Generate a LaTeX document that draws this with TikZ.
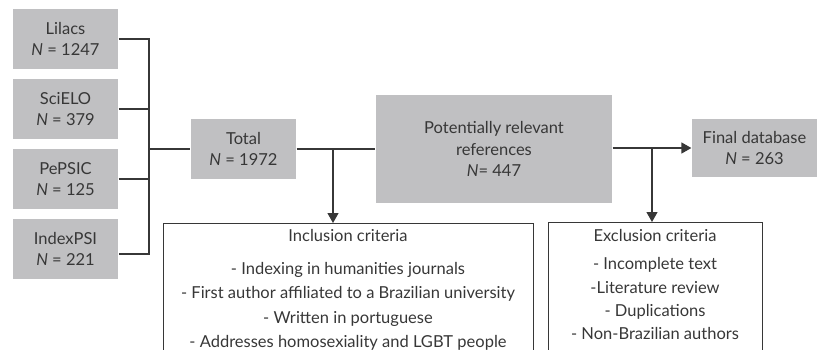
\documentclass[tikz,border=0pt]{standalone}
\usepackage{fontspec}
\setmainfont{Lato}
\usetikzlibrary{arrows.meta,positioning}
\definecolor{boxgray}{RGB}{192,192,194}
\definecolor{inkgray}{RGB}{55,55,55}

\begin{document}
\begin{tikzpicture}[x=1pt, y=-1pt, color=inkgray, line width=1.2pt,
  >={Triangle[length=10pt,width=11pt]},
  dbbox/.style = {fill=boxgray, minimum width=105pt, minimum height=60pt,
    inner sep=0pt, align=center, font=\fontsize{16.5}{21.5}\selectfont},
  critbox/.style = {draw, line width=1pt, anchor=north, minimum height=150pt, inner sep=0pt},
  crittext/.style = {anchor=north, align=center, inner sep=0pt}]

\useasboundingbox (0,0) rectangle (819,350);

% sources
\node[dbbox] (lil) at (65.5,39)  {Lilacs\\\textit{N} = 1247};
\node[dbbox] (sci) at (65.5,109) {SciELO\\\textit{N} = 379};
\node[dbbox] (pep) at (65.5,179) {PePSIC\\\textit{N} = 125};
\node[dbbox] (idx) at (65.5,249) {IndexPSI\\\textit{N} = 221};

\node[dbbox] (tot) at (243.5,149) {Total\\\textit{N} = 1972};
\node[dbbox, minimum width=236pt, minimum height=108pt] (pot) at (494,149)
  {Potentially relevant\\references\\\textit{N}= 447};
\node[dbbox, minimum width=125pt, minimum height=58pt] (fin) at (754.5,148)
  {Final database\\\textit{N} = 263};

% criteria
\node[critbox, minimum width=370pt] (inc) at (348,223) {};
\node[crittext, font=\fontsize{16.5}{24.5}\selectfont] (inctxt) at ([yshift=-6pt]inc.north)
  {Inclusion criteria\\[8pt]
   - Indexing in humanities journals\\
   - First author affiliated to a Brazilian university\\
   - Written in portuguese\\
   - Addresses homosexiality and LGBT people};
\node[critbox, minimum width=214pt] (exc) at (655,222) {};
\node[crittext, font=\fontsize{16.5}{23.2}\selectfont] (exctxt) at ([yshift=-7pt]exc.north)
  {Exclusion criteria\\[5pt]
   - Incomplete text\\
   -Literature review\\
   - Duplications\\
   - Non-Brazilian authors};

% connectors
\coordinate (bus) at (149,149);
\draw (lil.east) -| (bus) |- ([yshift=-5pt]idx.east);
\draw (sci.east) -- (sci.east -| bus);
\draw (pep.east) -- (pep.east -| bus);
\draw (bus) -- (tot.west);

\draw (tot.east) -- (pot.west);
\coordinate (incfork) at (333,149);
\draw[->] (incfork) -- (incfork |- inc.north);

\draw[->] (pot.east |- fin.west) -- (fin.west);
\coordinate (excfork) at (652,148);
\draw[->] (excfork) -- (excfork |- exc.north);

\end{tikzpicture}
\end{document}
